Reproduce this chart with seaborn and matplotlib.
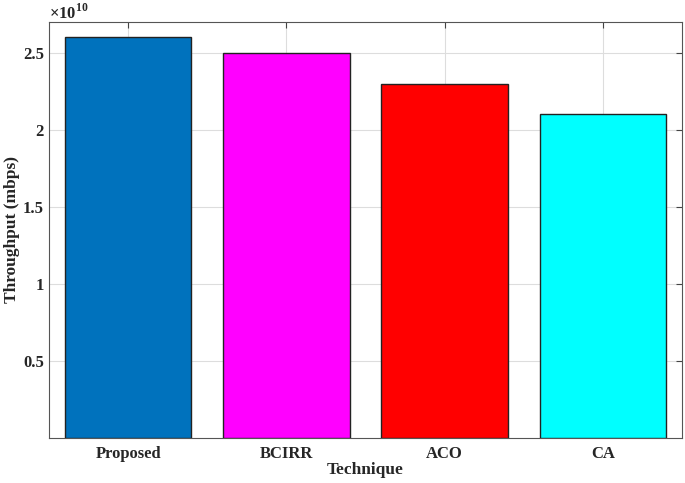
import matplotlib
matplotlib.use("Agg")
import matplotlib.pyplot as plt
from matplotlib.ticker import FuncFormatter
import seaborn as sns
import pandas as pd

techniques = ["Proposed", "BCIRR", "ACO", "CA"]
throughput = [2.6e10, 2.5e10, 2.3e10, 2.1e10]
bar_colors = ["#0072BD", "#FF00FF", "#FF0000", "#00FFFF"]
y_ticks = [0.5e10, 1e10, 1.5e10, 2e10, 2.5e10]

sns.set_style("white")
plt.rcParams["font.family"] = ["Liberation Serif", "DejaVu Serif"]
plt.rcParams["font.weight"] = "bold"
plt.rcParams["mathtext.fontset"] = "custom"
plt.rcParams["mathtext.rm"] = "Liberation Serif"

df = pd.DataFrame({"Technique": techniques, "Throughput": throughput})

fig = plt.figure(figsize=(6.85, 4.83), dpi=100)
ax = fig.add_axes([0.0715, 0.0932, 0.924, 0.8613])

sns.barplot(data=df, x="Technique", y="Throughput", hue="Technique",
            palette=bar_colors, saturation=1, width=0.8, edgecolor="#222222",
            linewidth=1.0, legend=False, ax=ax, zorder=3)

ax.set_xlim(-0.5, 3.5)
ax.set_ylim(0, 2.7e10)
ax.set_yticks(y_ticks)
ax.yaxis.set_major_formatter(FuncFormatter(lambda v, p: f"{v / 1e10:g}"))
ax.text(0.0, 0.999, r"$\times10^{10}$", transform=ax.transAxes,
        fontsize=12, ha="left", va="bottom")

ax.grid(True, color="#dddddd", linewidth=0.8, zorder=0)
ax.set_axisbelow(True)
ax.tick_params(direction="in", top=True, right=True, length=4, labelsize=12,
               color="#444444")
ax.tick_params(axis="x", pad=6)
for lbl in ax.get_xticklabels() + ax.get_yticklabels():
    lbl.set_fontweight("bold")
for sp in ax.spines.values():
    sp.set_color("#555555")
    sp.set_linewidth(0.8)

ax.set_xlabel("Technique", fontsize=12.5, fontweight="bold", labelpad=0)
ax.set_ylabel("Throughput (mbps)", fontsize=12.5, fontweight="bold", labelpad=2)

fig.savefig("out.png", dpi=100)
